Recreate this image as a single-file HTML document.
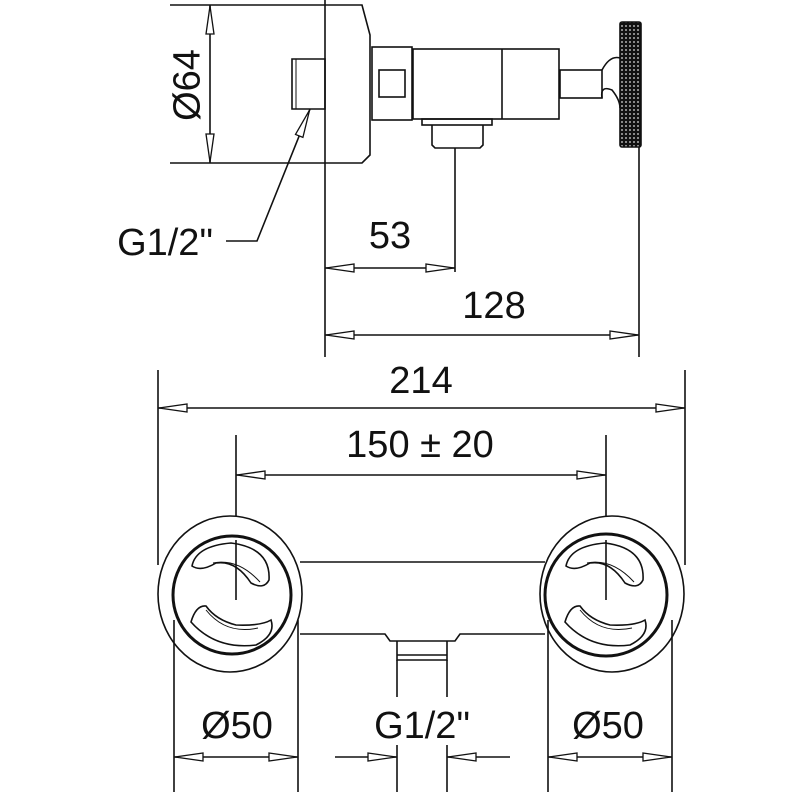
<!DOCTYPE html>
<html><head><style>
html,body{margin:0;padding:0;background:#fff}
svg{display:block}
text{font-family:"Liberation Sans",sans-serif;fill:#111}
</style></head><body>
<svg width="800" height="800" viewBox="0 0 800 800" xmlns="http://www.w3.org/2000/svg">
<defs>
<marker id="a" viewBox="0 0 30 10" refX="30" refY="5" markerWidth="30" markerHeight="10" markerUnits="userSpaceOnUse" orient="auto-start-reverse">
<path d="M1,1 L29,5 L1,9 Z" fill="#fff" stroke="#111" stroke-width="1.3"/>
</marker>
<pattern id="knurl" width="4" height="4" patternUnits="userSpaceOnUse">
<rect width="4" height="4" fill="#111"/><circle cx="2" cy="2" r="0.9" fill="#ddd"/>
</pattern>
</defs>
<g fill="none" stroke="#111" stroke-width="1.6">
<!-- TOP VIEW -->
<path d="M170,5 H362 L370,35 V155 L362,163 H170"/>
<line x1="325" y1="0" x2="325" y2="357"/>
<path d="M292,59 H325 V109 H292 Z"/>
<line x1="296" y1="59" x2="296" y2="109" stroke-width="1"/>
<rect x="372" y="47" width="40" height="73"/>
<rect x="379" y="70" width="26" height="27"/>
<rect x="413" y="49" width="146" height="70"/>
<line x1="502" y1="49" x2="502" y2="119"/>
<rect x="422" y="119" width="70" height="6"/>
<path d="M432,125 V145 L435,148 H480 L483,145 V125"/>
<line x1="455" y1="148" x2="455" y2="272"/>
<rect x="560" y="70" width="42" height="28"/>
<path d="M602,70 Q610,55 620,58 M602,98 Q600,85 612,90 Q620,100 620,108"/>
<rect x="620" y="22" width="21" height="125" rx="2" fill="url(#knurl)"/>
<line x1="639" y1="147" x2="639" y2="357"/>
<line x1="210" y1="5" x2="210" y2="163" marker-start="url(#a)" marker-end="url(#a)"/>
<path d="M226,241 H257 L310,109" marker-end="url(#a)"/>
<line x1="325" y1="268" x2="455" y2="268" marker-start="url(#a)" marker-end="url(#a)"/>
<line x1="325" y1="335" x2="639" y2="335" marker-start="url(#a)" marker-end="url(#a)"/>
<!-- FRONT VIEW -->
<line x1="158" y1="370" x2="158" y2="565"/>
<line x1="685" y1="370" x2="685" y2="565"/>
<line x1="158" y1="408" x2="685" y2="408" marker-start="url(#a)" marker-end="url(#a)"/>
<line x1="236" y1="435" x2="236" y2="600"/>
<line x1="606" y1="435" x2="606" y2="600"/>
<line x1="236" y1="475" x2="606" y2="475" marker-start="url(#a)" marker-end="url(#a)"/>
<path d="M300,562 H545"/>
<path d="M300,634 H385 L390,641 H455 L460,634 H545"/>
<path d="M397,641 V660 H447 V641"/>
<line x1="397" y1="655" x2="447" y2="655"/>
<ellipse cx="230" cy="594" rx="72" ry="78" fill="#fff"/>
<circle cx="232" cy="595" r="59" stroke-width="3" fill="#fff"/>
<g transform="translate(-374,0)">
<path d="M566,566 Q570,546 605,543 Q645,548 643,580 Q638,590 625,583 Q610,560 590,563 Q575,572 566,566 Z"/>
<path d="M587,563 Q612,558 634,582" stroke-width="1"/>
<path d="M565,622 Q570,605 580,606 Q590,620 610,625 Q635,626 645,620 Q650,635 630,645 Q590,650 565,622 Z"/>
<path d="M580,610 Q600,635 632,628" stroke-width="1"/>
</g>
<ellipse cx="612" cy="594" rx="72" ry="78" fill="#fff"/>
<circle cx="606" cy="595" r="61" stroke-width="3" fill="#fff"/>
<path d="M566,566 Q570,546 605,543 Q645,548 643,580 Q638,590 625,583 Q610,560 590,563 Q575,572 566,566 Z"/>
<path d="M587,563 Q612,558 634,582" stroke-width="1"/>
<path d="M565,622 Q570,605 580,606 Q590,620 610,625 Q635,626 645,620 Q650,635 630,645 Q590,650 565,622 Z"/>
<path d="M580,610 Q600,635 632,628" stroke-width="1"/>
<line x1="236" y1="540" x2="236" y2="600"/>
<line x1="606" y1="540" x2="606" y2="600"/>
<line x1="174" y1="620" x2="174" y2="792"/>
<line x1="298" y1="620" x2="298" y2="792"/>
<line x1="174" y1="757" x2="298" y2="757" marker-start="url(#a)" marker-end="url(#a)"/>
<line x1="548" y1="620" x2="548" y2="792"/>
<line x1="672" y1="620" x2="672" y2="792"/>
<line x1="548" y1="757" x2="672" y2="757" marker-start="url(#a)" marker-end="url(#a)"/>
<line x1="397" y1="660" x2="397" y2="697"/>
<line x1="447" y1="660" x2="447" y2="697"/>
<line x1="397" y1="745" x2="397" y2="792"/>
<line x1="447" y1="745" x2="447" y2="792"/>
<line x1="335" y1="757" x2="397" y2="757" marker-end="url(#a)"/>
<line x1="510" y1="757" x2="447" y2="757" marker-end="url(#a)"/>
</g>
<g font-size="38">
<text x="186" y="85" text-anchor="middle" transform="rotate(-90 186 85)" dy="0.35em">Ø64</text>
<text x="165" y="255" text-anchor="middle">G1/2"</text>
<text x="390" y="248" text-anchor="middle">53</text>
<text x="494" y="318" text-anchor="middle">128</text>
<text x="421" y="393" text-anchor="middle">214</text>
<text x="420" y="457" text-anchor="middle">150 ± 20</text>
<text x="237" y="738" text-anchor="middle">Ø50</text>
<text x="422" y="738" text-anchor="middle">G1/2"</text>
<text x="608" y="738" text-anchor="middle">Ø50</text>
</g>
</svg>
</body></html>
